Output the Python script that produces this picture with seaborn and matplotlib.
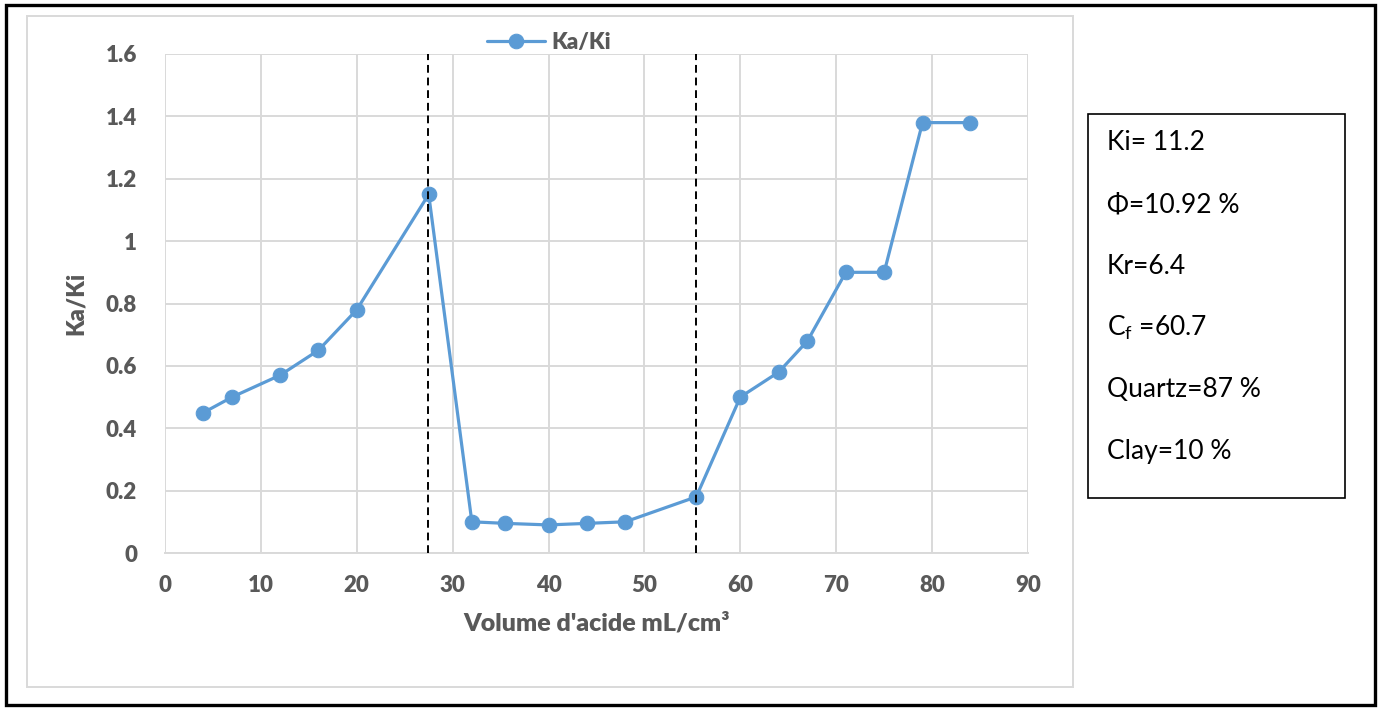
import matplotlib
matplotlib.use("Agg")
import matplotlib.pyplot as plt
from matplotlib.patches import Rectangle
import seaborn as sns
import pandas as pd

# Acid volume injected and normalised permeability Ka/Ki
volume = [4, 7, 12, 16, 20, 27.5, 32, 35.5, 40, 44, 48, 55.4, 60, 64, 67, 71, 75, 79, 84]
ka_ki = [0.45, 0.50, 0.57, 0.65, 0.78, 1.15, 0.10, 0.095, 0.09, 0.095, 0.10, 0.18,
         0.50, 0.58, 0.68, 0.90, 0.90, 1.38, 1.38]

# Stage boundaries (dashed markers)
stage_bounds = [27.4, 55.4]

x_ticks = [0, 10, 20, 30, 40, 50, 60, 70, 80, 90]
y_ticks = [0, 0.2, 0.4, 0.6, 0.8, 1.0, 1.2, 1.4, 1.6]
y_tick_labels = ["0", "0.2", "0.4", "0.6", "0.8", "1", "1.2", "1.4", "1.6"]

info_lines = ["Ki= 11.2", "Φ=10.92 %", "Kr=6.4", "C$_\\mathregular{f}$ =60.7", "Quartz=87 %", "Clay=10 %"]

sns.set_theme(style="white")
plt.rcParams["font.family"] = ["Lato", "DejaVu Sans"]

W, H = 1383, 708
fig = plt.figure(figsize=(W / 100, H / 100), dpi=100)
fig.patch.set_facecolor("white")

def fx(px):
    return px / W

def fy(py):
    return 1 - py / H

ax = fig.add_axes([fx(165), fy(553), fx(1028) - fx(165), fy(54) - fy(553)])

df = pd.DataFrame({"Volume": volume, "Ka/Ki": ka_ki})
line_color = "#5B9BD5"
sns.lineplot(data=df, x="Volume", y="Ka/Ki", ax=ax, color=line_color, linewidth=2.3,
             marker="o", markersize=10.5, markeredgecolor=line_color, label="Ka/Ki",
             sort=False, zorder=3)

for xb in stage_bounds:
    ax.axvline(xb, color="black", linestyle=(0, (4, 2.5)), linewidth=1.4, zorder=4)

ax.set_xlim(0, 90)
ax.set_ylim(0, 1.6)
ax.set_xticks(x_ticks)
ax.set_yticks(y_ticks)
ax.set_yticklabels(y_tick_labels)
ax.grid(True, color="#d9d9d9", linewidth=1.4)
for side in ["top", "right", "left"]:
    ax.spines[side].set_visible(False)
ax.spines["bottom"].set_color("#d9d9d9")
ax.spines["bottom"].set_linewidth(1.4)
ax.tick_params(axis="x", length=0, labelsize=16, labelcolor="#595959", pad=16)
ax.tick_params(axis="y", length=0, labelsize=16, labelcolor="#595959", pad=20)
for lab in ax.get_xticklabels() + ax.get_yticklabels():
    lab.set_fontweight("heavy")

ax.set_xlabel("Volume d'acide mL/cm³", fontsize=18, fontweight="heavy", color="#595959", labelpad=12)
ax.set_ylabel("Ka/Ki", fontsize=17, fontweight="heavy", color="#595959", labelpad=14)

leg = ax.legend(loc="lower center", bbox_to_anchor=(0.445, 0.985), frameon=False,
                fontsize=16, handlelength=2.6, handletextpad=0.3, borderaxespad=0)
for t in leg.get_texts():
    t.set_fontweight("heavy")
    t.set_color("#595959")

# Chart area, outer frame and parameter box
fig.patches.append(Rectangle((fx(27), fy(687)), fx(1073) - fx(27), fy(16) - fy(687),
                             transform=fig.transFigure, fill=False,
                             edgecolor="#d9d9d9", linewidth=1.4, zorder=0))
fig.patches.append(Rectangle((fx(6), fy(705)), fx(1375) - fx(6), fy(5) - fy(705),
                             transform=fig.transFigure, fill=False,
                             edgecolor="black", linewidth=2.4))
fig.patches.append(Rectangle((fx(1088), fy(498)), fx(1345) - fx(1088), fy(114) - fy(498),
                             transform=fig.transFigure, fill=False,
                             edgecolor="black", linewidth=1.2))

for i, txt in enumerate(info_lines):
    fig.text(fx(1107), fy(143 + i * 61.6), txt, fontsize=19, color="black",
             va="center", ha="left")

fig.savefig("out.png", dpi=100, facecolor="white")
